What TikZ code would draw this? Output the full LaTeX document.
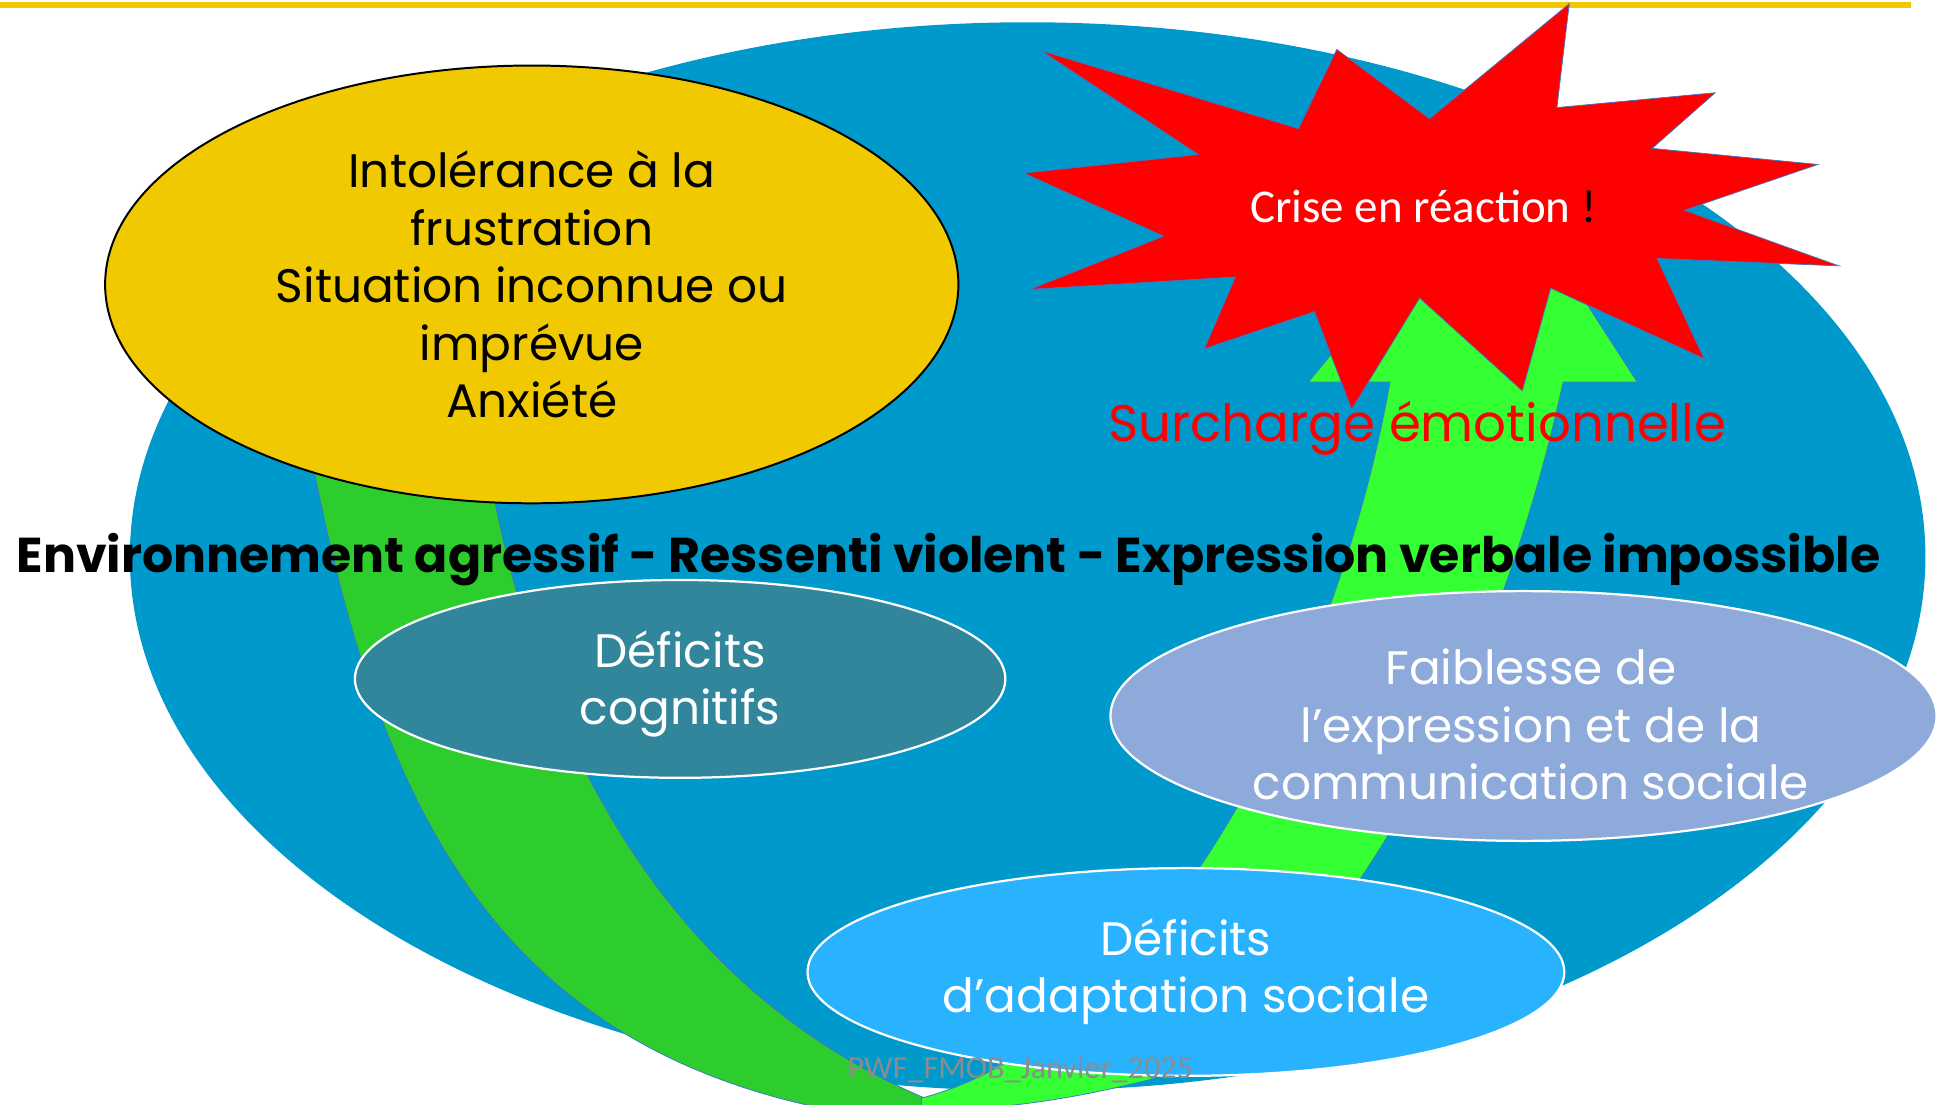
\documentclass[tikz,border=0pt]{standalone}
\usepackage{fontspec}
\setmainfont{Poppins}
\newfontfamily\calib{Carlito}
\usetikzlibrary{shapes.geometric}
\definecolor{goldline}{RGB}{242,200,0}
\definecolor{bigblue}{RGB}{0,153,204}
\definecolor{yell}{RGB}{240,201,0}
\definecolor{dkgreen}{RGB}{44,205,44}
\definecolor{brgreen}{RGB}{51,255,51}
\definecolor{cogn}{RGB}{49,134,156}
\definecolor{faib}{RGB}{142,170,219}
\definecolor{adapt}{RGB}{41,179,255}
\definecolor{edgeblue}{RGB}{68,114,196}
\definecolor{wmgray}{RGB}{140,140,140}
\tikzset{
  bubble/.style={ellipse, inner sep=0pt, draw=white, line width=0.9pt},
  bodytext/.style={align=center, inner sep=0pt, font=\fontsize{19}{23.25}\selectfont},
}
\begin{document}
\begin{tikzpicture}[x=0.5pt,y=-0.5pt]
\useasboundingbox (0,0) rectangle (1568,893);
\clip (0,0) rectangle (1568,893);
% top gold line
\draw[goldline, line width=2.2pt] (0,4) -- (1545,4);
% big blue ellipse
\node[ellipse, fill=bigblue, inner sep=0pt, minimum width=726pt, minimum height=432pt] (env) at (831,450) {};
% dark green back band
\fill[dkgreen, draw=edgeblue, line width=0.3pt]
  (250,360) .. controls (300,620) and (380,830) .. (650,893)
  .. controls (690,902) and (720,900) .. (750,898)
  -- (748,888)
  .. controls (540,800) and (430,600) .. (392,360)
  -- cycle;
% bright green front band with arrow head
\coordinate (tip) at (1207,128);
\fill[brgreen, draw=edgeblue, line width=0.3pt]
  (745,898) .. controls (800,897) and (850,893) .. (930,873)
  .. controls (1080,800) and (1210,560) .. (1264,309)
  -- (1324,309) -- (tip) -- (1058,309) -- (1124,309)
  .. controls (1080,560) and (930,840) .. (745,888)
  -- cycle;
% yellow ellipse
\node[ellipse, fill=yell, draw=black, line width=0.8pt, inner sep=0pt, minimum width=345pt, minimum height=177pt] (trig) at (430,230) {};
\node[bodytext] (trigtxt) at (trig.center) {Intolérance à la\\frustration\\Situation inconnue ou\\imprévue\\Anxiété};
% main statement
\node[inner sep=0pt, anchor=base, font=\fontsize{19.8}{24}\selectfont\bfseries] (statement) at (767,463) {Environnement agressif - Ressenti violent - Expression verbale impossible};
% deficit bubbles
\node[bubble, fill=cogn, minimum width=263pt, minimum height=80pt] (cog) at (550,549) {};
\node[bodytext, text=white] (cogtxt) at (550,553) {Déficits\\cognitifs};
\node[bubble, fill=faib, minimum width=334pt, minimum height=101pt] (faib) at (1232,579) {};
\node[bodytext, text=white] (faibtxt) at (1238,586) {Faiblesse de\\l’expression et de la\\communication sociale};
\node[bubble, fill=adapt, minimum width=306pt, minimum height=84pt] (adap) at (959,786) {};
\node[bodytext, text=white] (adaptxt) at (959,786) {Déficits\\d’adaptation sociale};
% star
\fill[red, draw=edgeblue, line width=0.3pt]
  (842,41) -- (1050,104) -- (1081,40) -- (1156,96) -- (1269,3) -- (1259,87) -- (1387,75) -- (1336,120)
  -- (1470,133) -- (1362,170) -- (1487,215) -- (1340,209) -- (1378,290) -- (1254,233) -- (1231,316)
  -- (1148,241) -- (1093,331) -- (1063,252) -- (974,282) -- (999,224) -- (833,234) -- (941,191)
  -- (828,140) -- (969,125) -- cycle;
\node[inner sep=0pt, anchor=base, font=\calib\fontsize{19}{22}\selectfont, text=white] (crise) at (1151,180) {Crise en réaction \textcolor{black}{!}};
\node[inner sep=0pt, anchor=base, font=\fontsize{20.8}{24}\selectfont, text=red] (surch) at (1146,357) {Surcharge émotionnelle};
% watermark
\node[inner sep=0pt, anchor=base, font=\calib\fontsize{13}{16}\selectfont, text=wmgray] (wm) at (825,872) {PWF\_FMOB\_Janvier\_2025};
\end{tikzpicture}
\end{document}
